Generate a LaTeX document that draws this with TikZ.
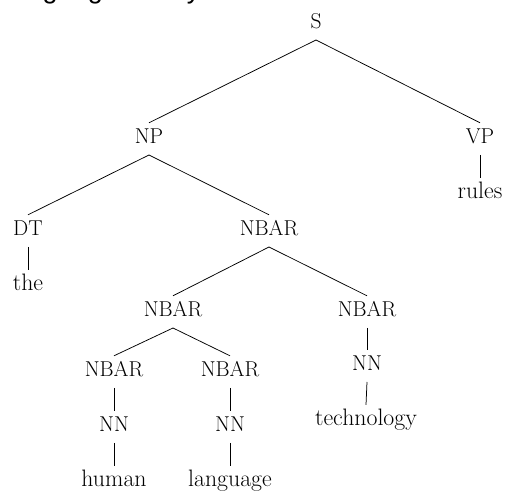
\documentclass[tikz,border=0pt]{standalone}
\usepackage{fontspec}
\newfontfamily\capfont{Liberation Sans}
\begin{document}
\begin{tikzpicture}[x=1pt,y=1pt,
  cat/.style={inner sep=0pt,text height=14.8pt,text depth=0pt,anchor=south,
              font=\fontsize{21.5}{25}\selectfont},
  word/.style={cat,font=\fontsize{23.8}{27}\selectfont},
  edge/.style={line width=0.75pt}]
\useasboundingbox (0,0) rectangle (509,497);

% caption line above the tree; only its descenders reach into the page
\begin{scope}
  \clip (0,487) rectangle (509,497);
  \node[anchor=base west,inner sep=0pt,font=\capfont\fontsize{27}{30}\selectfont]
    (caption) at (6.5,498) {language theory};
\end{scope}

% tree nodes, each placed at its baseline
\node[cat]  (S)     at (316,468) {S};
\node[cat]  (NP)    at (149,353) {NP};
\node[cat]  (VP)    at (480,353) {VP};
\node[word] (rules) at (480,298) {rules};
\node[cat]  (DT)    at (28,261)  {DT};
\node[word] (the)   at (28,206)  {the};
\node[cat]  (NB1)   at (269,261) {NBAR};
\node[cat]  (NB2)   at (173,180) {NBAR};
\node[cat]  (NB3)   at (367,180) {NBAR};
\node[cat]  (NB4)   at (114,120) {NBAR};
\node[cat]  (NB5)   at (230,120) {NBAR};
\node[cat]  (NN3)   at (367,126) {NN};
\node[word] (tech)  at (366,71)  {technology};
\node[cat]  (NN1)   at (114,65)  {NN};
\node[cat]  (NN2)   at (230,65)  {NN};
\node[word] (human) at (114,10)  {human};
\node[word] (lang)  at (230,10)  {language};

% branches: from just below the parent's baseline to just above the child
\foreach \p/\c in {S/NP,S/VP,VP/rules,NP/DT,NP/NB1,DT/the,NB1/NB2,NB1/NB3,
                   NB2/NB4,NB2/NB5,NB3/NN3,NN3/tech,NB4/NN1,NB5/NN2,
                   NN1/human,NN2/lang}
  \draw[edge] ([yshift=-11pt]\p.south) -- ([yshift=6pt]\c.north);
\end{tikzpicture}
\end{document}
